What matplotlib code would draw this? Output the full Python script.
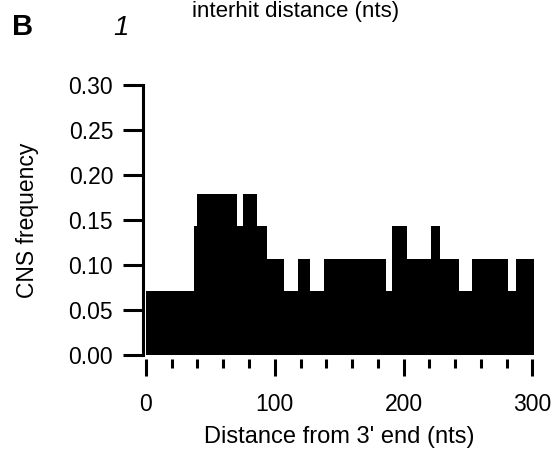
import matplotlib
matplotlib.use("Agg")
import matplotlib.pyplot as plt
from matplotlib.ticker import MultipleLocator

plt.rcParams['font.family'] = ['Liberation Sans', 'DejaVu Sans']

# Step histogram: bin edges (nts) and CNS frequency in each bin
edges = [0, 37, 40, 71, 75, 86, 94, 107, 118, 127, 138, 186, 191, 203, 221, 228, 243, 253, 281, 287, 301]
freq = [0.0714, 0.1429, 0.1786, 0.1429, 0.1786, 0.1429, 0.1071, 0.0714, 0.1071, 0.0714,
        0.1071, 0.0714, 0.1429, 0.1071, 0.1429, 0.1071, 0.0714, 0.1071, 0.0714, 0.1071]
yticks = [0.00, 0.05, 0.10, 0.15, 0.20, 0.25, 0.30]
xticks = [0, 100, 200, 300]

W, H = 556, 449
fig = plt.figure(figsize=(W / 100, H / 100), dpi=100)
ax = fig.add_axes([143 / W, 1 - 355 / H, (535 - 143) / W, (355 - 85) / H])

ax.stairs(freq, edges, fill=True, color='black', linewidth=0)

ax.set_xlim(-2.3, 302)
ax.set_ylim(0, 0.30)
ax.set_yticks(yticks)
ax.set_yticklabels([f"{v:.2f}" for v in yticks])
ax.set_xticks(xticks)
ax.set_xticklabels([str(v) for v in xticks])
ax.xaxis.set_minor_locator(MultipleLocator(20))

for s in ['top', 'right']:
    ax.spines[s].set_visible(False)
ax.spines['bottom'].set_visible(False)
ax.spines['bottom'].set_position(('outward', 3))
ax.spines['left'].set_linewidth(2.2)

ax.tick_params(axis='y', which='major', length=14.5, width=2.2, pad=7, labelsize=16.5)
ax.tick_params(axis='x', which='major', length=12.5, width=2.2, pad=12, labelsize=16.5)
ax.tick_params(axis='x', which='minor', length=6.5, width=2.2)

ax.set_xlabel("Distance from 3' end (nts)", fontsize=17, labelpad=7)
ax.set_ylabel("CNS frequency", fontsize=16.5, labelpad=21)

fig.text(12 / W, 1 - 35 / H, "B", fontsize=21, fontweight='bold', ha='left', va='baseline')
fig.text(121 / W, 1 - 35 / H, "1", fontsize=20, fontstyle='italic', ha='center', va='baseline')
fig.text(296 / W, 1 - 17 / H, "interhit distance (nts)", fontsize=16, ha='center', va='baseline')

fig.savefig("out.png", dpi=100)
